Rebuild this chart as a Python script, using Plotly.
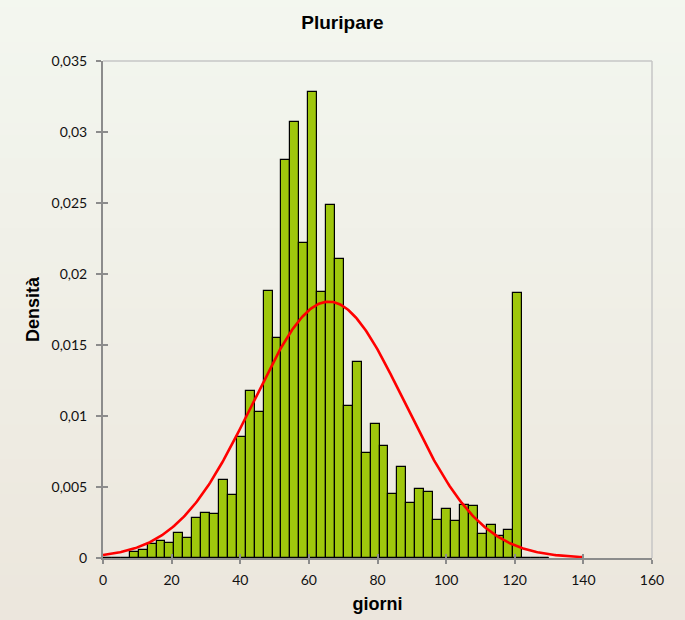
import numpy as np
import plotly.graph_objects as go

# Histogram of days (50 bins of width 2.6 from 0 to 130), density scale
bin_start = 0.0
bin_width = 2.6
density = [
    0.0, 0.0, 0.0,
    0.00039, 0.00053, 0.00098, 0.00117, 0.00106, 0.00173, 0.00139, 0.00279,
    0.00315, 0.00307, 0.00546, 0.00443, 0.00855, 0.01173, 0.01031, 0.01878,
    0.01547, 0.02806, 0.03071, 0.02215, 0.03280, 0.01873, 0.02488, 0.02109,
    0.01067, 0.01379, 0.00738, 0.00945, 0.00786, 0.00449, 0.00638, 0.00390,
    0.00488, 0.00463, 0.00265, 0.00348, 0.00259, 0.00376, 0.00365, 0.00170,
    0.00229, 0.00153, 0.00198, 0.01867,
    0.0, 0.0, 0.0,
]

# Fitted normal curve parameters
mu = 65.8
sigma = 22.1
curve_end = 140

x_ticks = [0, 20, 40, 60, 80, 100, 120, 140, 160]
y_ticks = [0, 0.005, 0.01, 0.015, 0.02, 0.025, 0.03, 0.035]
y_tick_text = ["0", "0,005", "0,01", "0,015", "0,02", "0,025", "0,03", "0,035"]

edges = bin_start + bin_width * np.arange(len(density) + 1)
centers = edges[:-1] + bin_width / 2

bar_color = "#9fc70c"
axis_color = "#8c8c8c"
frame_color = "#c6c6c6"
tick_font = dict(family="Lato, Liberation Sans, Arial", size=14, color="#111111")
bold_font = "Liberation Sans, Arial"

fig = go.Figure()

# Background: soft vertical gradient from pale green to warm beige
top_rgb = np.array([244, 248, 241])
bot_rgb = np.array([236, 230, 220])
n_bands = 60
y_lo, y_hi = -0.2, 1.2
for i in range(n_bands):
    t = i / (n_bands - 1)
    c = top_rgb + (bot_rgb - top_rgb) * t
    y1 = y_hi - (y_hi - y_lo) * i / n_bands
    y0 = y_hi - (y_hi - y_lo) * (i + 1) / n_bands
    fig.add_shape(
        type="rect", xref="paper", yref="paper",
        x0=-0.3, x1=1.3, y0=y0 - 0.002, y1=y1 + 0.002,
        line=dict(width=0),
        fillcolor=f"rgb({int(c[0])},{int(c[1])},{int(c[2])})",
        layer="below",
    )

# Histogram bars
fig.add_trace(go.Bar(
    x=centers, y=density, width=bin_width,
    marker=dict(color=bar_color, line=dict(color="#000000", width=1.2)),
    hoverinfo="x+y", showlegend=False,
))

# Empty bins show only their outline along the baseline
runs = []
start = None
for i, d in enumerate(density):
    if d == 0 and start is None:
        start = i
    if d != 0 and start is not None:
        runs.append((start, i))
        start = None
if start is not None:
    runs.append((start, len(density)))
for a, b in runs:
    fig.add_trace(go.Scatter(
        x=[edges[a], edges[b]], y=[0, 0], mode="lines",
        line=dict(color="#000000", width=1.5),
        hoverinfo="skip", showlegend=False,
    ))

# Normal density curve
xc = np.linspace(0, curve_end, 400)
yc = np.exp(-0.5 * ((xc - mu) / sigma) ** 2) / (sigma * np.sqrt(2 * np.pi))
fig.add_trace(go.Scatter(
    x=xc, y=yc, mode="lines",
    line=dict(color="#ff0000", width=2.6),
    hoverinfo="skip", showlegend=False,
))

# Helper trace so the inner-tick overlay axes are drawn
fig.add_trace(go.Scatter(
    x=[None], y=[None], xaxis="x2", yaxis="y2",
    mode="markers", hoverinfo="skip", showlegend=False,
))

# Light frame on the top and right sides of the plot area
fig.add_shape(type="line", xref="paper", yref="paper", x0=0, x1=1, y0=1, y1=1,
              line=dict(color=frame_color, width=1.5), layer="above")
fig.add_shape(type="line", xref="paper", yref="paper", x0=1, x1=1, y0=0, y1=1,
              line=dict(color=frame_color, width=1.5), layer="above")

x_range = [0, 160]
y_range = [0, 0.035]

fig.update_layout(
    width=685, height=620,
    margin=dict(l=103, r=33, t=61, b=62),
    paper_bgcolor="#f0f0e8",
    plot_bgcolor="rgba(0,0,0,0)",
    bargap=0,
    title=dict(
        text="<b>Pluripare</b>",
        font=dict(family=bold_font, size=19, color="#000000"),
        x=0.5, xanchor="center", xref="container",
        y=1 - 22 / 620, yanchor="middle", yref="container",
    ),
    xaxis=dict(
        range=x_range, tickvals=x_ticks, ticks="outside", ticklen=4,
        tickwidth=1.5, tickcolor=axis_color, showline=True,
        linecolor=axis_color, linewidth=2, showgrid=False, zeroline=False,
        tickfont=tick_font, ticklabelstandoff=4, automargin=False,
        title=dict(text="<b>giorni</b>",
                   font=dict(family=bold_font, size=18, color="#000000"),
                   standoff=11),
    ),
    yaxis=dict(
        range=y_range, tickvals=y_ticks, ticktext=y_tick_text,
        ticks="outside", ticklen=5, tickwidth=1.5, tickcolor=axis_color,
        showline=True, linecolor=axis_color, linewidth=2, showgrid=False,
        zeroline=False, tickfont=tick_font, ticklabelstandoff=6,
        automargin=False,
        title=dict(text="<b>Densità</b>",
                   font=dict(family=bold_font, size=18, color="#000000"),
                   standoff=7),
    ),
    xaxis2=dict(
        overlaying="x", side="bottom", range=x_range, tickvals=x_ticks,
        ticks="inside", ticklen=4, tickwidth=1.5, tickcolor=axis_color,
        showticklabels=False, showline=False, showgrid=False, zeroline=False,
        automargin=False,
    ),
    yaxis2=dict(
        overlaying="y", side="left", range=y_range, tickvals=y_ticks,
        ticks="inside", ticklen=5, tickwidth=1.5, tickcolor=axis_color,
        showticklabels=False, showline=False, showgrid=False, zeroline=False,
        automargin=False,
    ),
)

fig.write_html("out.html")
